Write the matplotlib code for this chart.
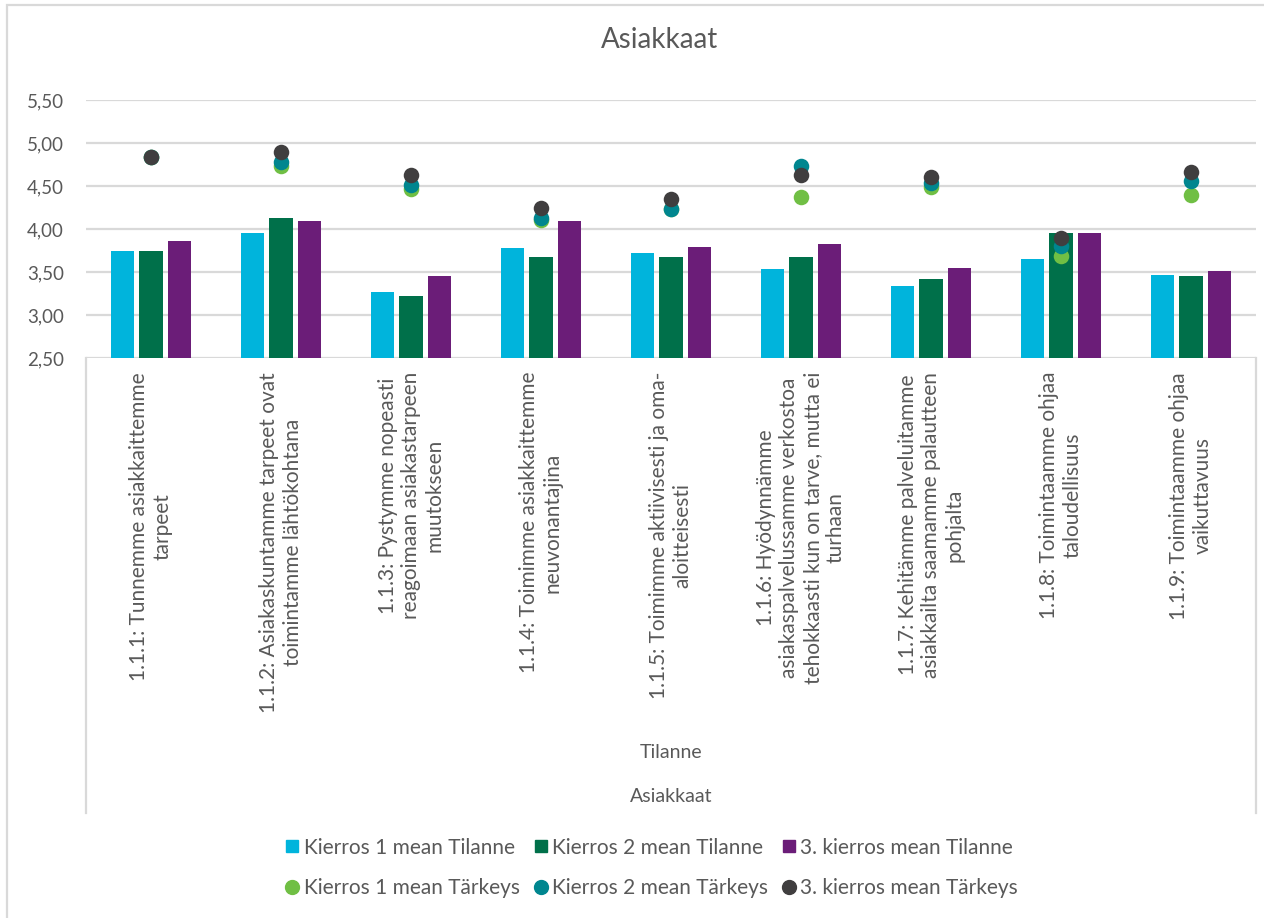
import numpy as np
import matplotlib
matplotlib.use('Agg')
import matplotlib.pyplot as plt
from matplotlib.patches import Rectangle
from matplotlib.lines import Line2D

plt.rcParams['font.family'] = ['Lato', 'DejaVu Sans']

# data
categories = [
    "1.1.1: Tunnemme asiakkaittemme\ntarpeet",
    "1.1.2: Asiakaskuntamme tarpeet ovat\ntoimintamme lähtökohtana",
    "1.1.3: Pystymme nopeasti\nreagoimaan asiakastarpeen\nmuutokseen",
    "1.1.4: Toimimme asiakkaittemme\nneuvonantajina",
    "1.1.5: Toimimme aktiivisesti ja oma-\naloitteisesti",
    "1.1.6: Hyödynnämme\nasiakaspalvelussamme verkostoa\ntehokkaasti kun on tarve, mutta ei\nturhaan",
    "1.1.7: Kehitämme palveluitamme\nasiakkailta saamamme palautteen\npohjalta",
    "1.1.8: Toimintaamme ohjaa\ntaloudellisuus",
    "1.1.9: Toimintaamme ohjaa\nvaikuttavuus",
]
k1_tilanne = [3.75, 3.95, 3.27, 3.78, 3.72, 3.54, 3.34, 3.65, 3.47]
k2_tilanne = [3.75, 4.13, 3.22, 3.68, 3.67, 3.67, 3.42, 3.95, 3.45]
k3_tilanne = [3.86, 4.09, 3.45, 4.09, 3.79, 3.82, 3.55, 3.95, 3.51]
k1_tarkeys = [4.84, 4.73, 4.47, 4.10, 4.23, 4.37, 4.49, 3.69, 4.40]
k2_tarkeys = [4.84, 4.78, 4.51, 4.13, 4.23, 4.73, 4.54, 3.80, 4.56]
k3_tarkeys = [4.84, 4.90, 4.63, 4.25, 4.35, 4.63, 4.61, 3.89, 4.66]
yticks = [2.5, 3.0, 3.5, 4.0, 4.5, 5.0, 5.5]

bar_names = ["Kierros 1 mean Tilanne", "Kierros 2 mean Tilanne", "3. kierros mean Tilanne"]
dot_names = ["Kierros 1 mean Tärkeys", "Kierros 2 mean Tärkeys", "3. kierros mean Tärkeys"]
bar_colors = ['#00B4DC', '#00704A', '#6B1D78']
dot_colors = ['#70BF44', '#00868F', '#403E3F']
txt = '#595959'
grid = '#D9D9D9'

W, H = 1264, 918
fig = plt.figure(figsize=(W / 100, H / 100), dpi=100)
ax = fig.add_axes([86 / W, 1 - 358 / H, (1256 - 86) / W, (358 - 100) / H])

x = np.arange(len(categories))
width = 0.178
step = 0.22
for i, vals in enumerate([k1_tilanne, k2_tilanne, k3_tilanne]):
    ax.bar(x + (i - 1) * step, np.array(vals) - 2.5, width, bottom=2.5,
           color=bar_colors[i], zorder=2, label=bar_names[i])
for i, vals in enumerate([k1_tarkeys, k2_tarkeys, k3_tarkeys]):
    ax.scatter(x, vals, s=125, color=dot_colors[i], zorder=3 + i,
               linewidths=0, label=dot_names[i])

ax.set_xlim(-0.5, len(categories) - 0.5)
ax.set_ylim(2.5, 5.5)
ax.set_yticks(yticks)
ax.set_yticklabels([f"{v:.2f}".replace('.', ',') for v in yticks],
                   fontsize=13.5, color=txt)
ax.yaxis.grid(True, color=grid, linewidth=1.6, zorder=0)
ax.set_axisbelow(True)
ax.tick_params(axis='y', length=0, pad=16)
ax.tick_params(axis='x', length=0, pad=10)
ax.set_xticks(x)
ax.set_xticklabels(categories, rotation=90, fontsize=15, color=txt,
                   ha='center', va='top', multialignment='center',
                   linespacing=1.2)
for s in ax.spines.values():
    s.set_visible(False)

# category axis border lines
for px in (86, 1256):
    fig.add_artist(Line2D([px / W, px / W], [1 - 358 / H, 1 - 813 / H],
                          color=grid, linewidth=1.6))

fig.text(660 / W, 1 - 40 / H, "Asiakkaat", fontsize=20, color=txt,
         ha='center', va='center')
fig.text(671 / W, 1 - 752 / H, "Tilanne", fontsize=14, color=txt,
         ha='center', va='center')
fig.text(671 / W, 1 - 797 / H, "Asiakkaat", fontsize=14, color=txt,
         ha='center', va='center')

# outer chart border (cut off at right/bottom like the screenshot)
fig.add_artist(Rectangle((7 / W, -0.1), 1.2, 1 - 5 / H + 0.1,
                         transform=fig.transFigure, fill=False,
                         edgecolor=grid, linewidth=1.6))

handles = []
for i in range(3):
    handles.append(Line2D([], [], marker='s', linestyle='', markersize=8.5,
                          color=bar_colors[i], label=bar_names[i]))
    handles.append(Line2D([], [], marker='o', linestyle='', markersize=10,
                          color=dot_colors[i], label=dot_names[i]))
fig.legend(handles=handles, ncol=3, loc='center', bbox_to_anchor=(650 / W, 1 - 868 / H),
           frameon=False, fontsize=15, labelcolor=txt, handletextpad=0.05,
           columnspacing=0.5, labelspacing=1.0, handlelength=1.0)

fig.savefig('out.png', dpi=100)
